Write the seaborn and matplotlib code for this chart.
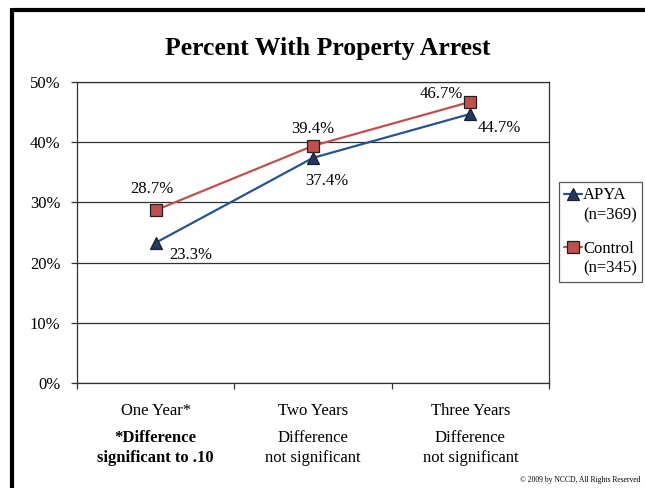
import matplotlib
matplotlib.use("Agg")
import matplotlib.pyplot as plt
from matplotlib.lines import Line2D
from matplotlib.legend_handler import HandlerLine2D
import seaborn as sns
import pandas as pd

# Data
periods = ["One Year*", "Two Years", "Three Years"]
notes = ["*Difference\nsignificant to .10", "Difference\nnot significant", "Difference\nnot significant"]
apya = [23.3, 37.4, 44.7]
control = [28.7, 39.4, 46.7]
series_labels = ["APYA\n(n=369)", "Control\n(n=345)"]
yticks = [0, 10, 20, 30, 40, 50]

sns.set_style("white")
plt.rcParams["font.family"] = ["Liberation Serif", "DejaVu Serif"]
plt.rcParams["text.color"] = "black"
plt.rcParams["xtick.color"] = "#303030"
plt.rcParams["ytick.color"] = "#303030"
plt.rcParams["xtick.labelcolor"] = "black"
plt.rcParams["ytick.labelcolor"] = "black"

df = pd.DataFrame({
    "pos": list(range(len(periods))) * 2,
    "value": apya + control,
    "group": [series_labels[0]] * len(periods) + [series_labels[1]] * len(periods),
})

blue_line = "#25548F"
blue_mark = "#1F3A68"
red_line = "#C0504D"

fig = plt.figure(figsize=(6.45, 4.88), dpi=100)
ax = fig.add_axes([77 / 645, 1 - 383 / 488, (549 - 77) / 645, (383 - 82) / 488])

sns.lineplot(
    data=df, x="pos", y="value", hue="group", style="group",
    palette={series_labels[0]: blue_line, series_labels[1]: red_line},
    markers={series_labels[0]: "^", series_labels[1]: "s"},
    dashes=False, linewidth=1.6, markersize=9,
    markeredgecolor="#202020", markeredgewidth=0.9,
    ax=ax, legend=True,
)
# marker face colours
for line in ax.get_lines():
    if line.get_color() == blue_line:
        line.set_markerfacecolor(blue_mark)

ax.set_xlim(-0.5, 2.5)
ax.set_ylim(0, 50)
ax.set_yticks(yticks)
ax.set_yticklabels([f"{v}%" for v in yticks], fontsize=12)
ax.yaxis.grid(True, color="#303030", linewidth=0.9)
ax.set_axisbelow(True)
ax.tick_params(axis="y", length=4, width=0.9, pad=8, direction="out", left=True)

ax.set_xticks(range(len(periods)))
ax.set_xticklabels(periods, fontsize=12)
ax.tick_params(axis="x", length=0, pad=14.5)
ax.set_xticks([-0.5, 0.5, 1.5, 2.5], minor=True)
ax.tick_params(axis="x", which="minor", length=4, width=0.9, direction="out", bottom=True)
ax.set_xlabel("")
ax.set_ylabel("")

for sp in ax.spines.values():
    sp.set_color("#303030")
    sp.set_linewidth(0.9)

# notes below each period
for i, note in enumerate(notes):
    ax.text(i, -0.155, note, transform=ax.get_xaxis_transform(), ha="center", va="top",
            fontsize=12, linespacing=1.38, fontweight="bold" if i == 0 else "normal")

# value labels
apya_offsets = [(25, -9), (10, -17), (21, -10)]
control_offsets = [(-3, 15), (0, 12), (-21, 6)]
for i, v in enumerate(apya):
    ax.annotate(f"{v}%", (i, v), xytext=apya_offsets[i], textcoords="offset points",
                ha="center", va="center", fontsize=12)
for i, v in enumerate(control):
    ax.annotate(f"{v}%", (i, v), xytext=control_offsets[i], textcoords="offset points",
                ha="center", va="center", fontsize=12)


class FirstLineHandler(HandlerLine2D):
    """Places the legend key level with the first line of a two-line label."""

    def create_artists(self, legend, orig_handle, xdescent, ydescent, width, height,
                       fontsize, trans):
        artists = super().create_artists(legend, orig_handle, xdescent, ydescent, width,
                                         height, fontsize, trans)
        for a in artists:
            a.set_ydata([y + 8.5 for y in a.get_ydata()])
        return artists


handles, labels = ax.get_legend_handles_labels()
leg = ax.legend(handles, labels, loc="upper left", bbox_to_anchor=(1.021, 0.667), frameon=True,
                fontsize=12, handlelength=1.1, handletextpad=0.05, borderpad=0.3,
                labelspacing=1.05, borderaxespad=0, fancybox=False,
                handler_map={h: FirstLineHandler() for h in handles})
for t in leg.get_texts():
    t.set_linespacing(1.33)
leg.get_frame().set_edgecolor("#303030")
leg.get_frame().set_linewidth(0.9)

fig.text(328 / 645, 1 - 49 / 488, "Percent With Property Arrest", ha="center", va="center",
         fontsize=18.5, fontweight="bold")
fig.text(640 / 645, 1 - 480 / 488, "© 2009 by NCCD, All Rights Reserved", ha="right",
         va="center", fontsize=5.5)

# slide frame
fig.add_artist(Line2D([12 / 645, 1], [1 - 10 / 488, 1 - 10 / 488], color="black", linewidth=3,
                      transform=fig.transFigure, solid_capstyle="butt"))
fig.add_artist(Line2D([12 / 645, 12 / 645], [0, 1 - 8 / 488], color="black", linewidth=3,
                      transform=fig.transFigure, solid_capstyle="butt"))

fig.savefig("out.png", dpi=100)
